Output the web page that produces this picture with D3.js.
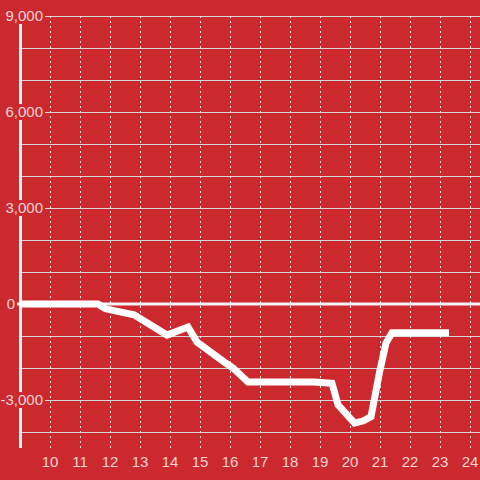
<!DOCTYPE html>
<html>
<head>
<meta charset="utf-8">
<script src="https://cdn.jsdelivr.net/npm/d3@7"></script>
<style>
  html, body { margin: 0; padding: 0; background: #cc292e; }
  svg { display: block; font-family: "Liberation Sans", Arial, sans-serif; }
</style>
</head>
<body>
<div id="viz"></div>
<script>
const width = 480;
const height = 480;
const margin = {top: 16, right: 0, bottom: 32, left: 20};
const bg = '#cc292e';
const textColor = '#f4d4d4';

// data
const hours = [9, 11.6, 11.85, 12.8, 13.9, 14.6, 14.9, 15.8, 16.1, 16.6, 18.8, 19.4, 19.6, 20.15, 20.45, 20.7, 21.0, 21.2, 21.4, 23.3];
const values = [0, 0, -150, -340, -970, -720, -1190, -1810, -2000, -2440, -2440, -2480, -3150, -3720, -3650, -3520, -2060, -1220, -900, -900];
const xTicks = [10, 11, 12, 13, 14, 15, 16, 17, 18, 19, 20, 21, 22, 23, 24];
const yGrid = d3.range(-4000, 9001, 1000);
const yTicks = [9000, 6000, 3000, 0, -3000];

const svg = d3.select('#viz')
  .append('svg')
  .attr('width', width)
  .attr('height', height);

svg.append('rect').attr('width', width).attr('height', height).attr('fill', bg);

const x = d3.scaleLinear()
  .domain([9, 9 + (width - margin.left) / 30])
  .range([margin.left, width - margin.right]);

const y = d3.scaleLinear()
  .domain([-4500, 9000])
  .range([height - margin.bottom, margin.top]);

// horizontal grid
svg.append('g')
  .selectAll('line')
  .data(yGrid.filter(d => d !== 0))
  .join('line')
  .attr('x1', margin.left)
  .attr('x2', width)
  .attr('y1', d => Math.round(y(d)) + 0.5)
  .attr('y2', d => Math.round(y(d)) + 0.5)
  .attr('stroke', '#d6d6d6')
  .attr('stroke-width', 1);

// vertical dashed grid
svg.append('g')
  .selectAll('line')
  .data(xTicks)
  .join('line')
  .attr('x1', d => Math.round(x(d)) + 0.5)
  .attr('x2', d => Math.round(x(d)) + 0.5)
  .attr('y1', y(9000))
  .attr('y2', y(-4500))
  .attr('stroke', '#e6e6e6')
  .attr('stroke-width', 1)
  .attr('stroke-dasharray', '2,3');

// y axis line
svg.append('line')
  .attr('x1', margin.left + 0.5)
  .attr('x2', margin.left + 0.5)
  .attr('y1', y(9000))
  .attr('y2', y(-4500))
  .attr('stroke', '#f4f4f4')
  .attr('stroke-width', 3);

// zero line
svg.append('line')
  .attr('x1', 17)
  .attr('x2', width)
  .attr('y1', y(0))
  .attr('y2', y(0))
  .attr('stroke', '#f4f4f4')
  .attr('stroke-width', 3);

// data line
const line = d3.line()
  .x((d, i) => x(hours[i]))
  .y(d => y(d));

svg.append('path')
  .datum(values)
  .attr('d', line)
  .attr('fill', 'none')
  .attr('stroke', '#ffffff')
  .attr('stroke-width', 7)
  .attr('stroke-linejoin', 'miter');

// y labels with background
const fmt = d3.format(',');
const yLab = svg.append('g')
  .selectAll('g')
  .data(yTicks)
  .join('g')
  .attr('transform', d => `translate(${d === 0 ? 15 : 43},${y(d)})`);

yLab.append('text')
  .attr('text-anchor', 'end')
  .attr('dy', '0.35em')
  .attr('font-size', 15)
  .attr('fill', textColor)
  .text(d => fmt(d).replace('−', '-'));

yLab.filter(d => d !== 0).each(function() {
  const g = d3.select(this);
  const b = g.select('text').node().getBBox();
  g.insert('rect', 'text')
    .attr('x', b.x - 1)
    .attr('y', -8)
    .attr('width', b.width + 3)
    .attr('height', 16)
    .attr('fill', bg);
});

// x labels
svg.append('g')
  .selectAll('text')
  .data(xTicks)
  .join('text')
  .attr('x', d => x(d))
  .attr('y', 467)
  .attr('text-anchor', 'middle')
  .attr('font-size', 15)
  .attr('fill', textColor)
  .text(d => d);
</script>
</body>
</html>
